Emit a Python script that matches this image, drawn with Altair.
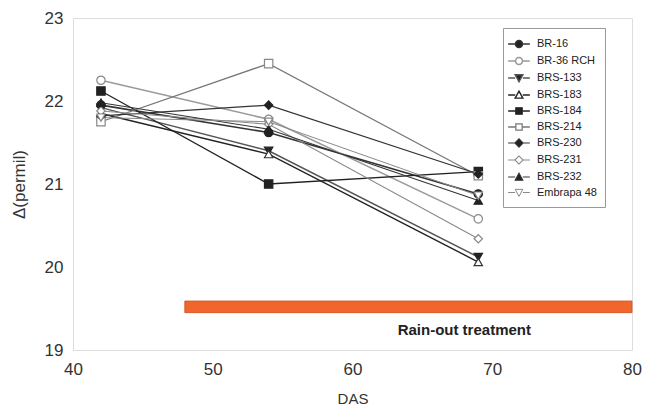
import altair as alt
import pandas as pd

das = [42, 54, 69]
series = ["BR-16", "BR-36 RCH", "BRS-133", "BRS-183", "BRS-184",
          "BRS-214", "BRS-230", "BRS-231", "BRS-232", "Embrapa 48"]
br16 = [21.95, 21.62, 20.88]
br36 = [22.25, 21.78, 20.58]
brs133 = [21.92, 21.40, 20.12]
brs183 = [21.85, 21.36, 20.06]
brs184 = [22.12, 21.00, 21.15]
brs214 = [21.75, 22.45, 21.10]
brs230 = [21.82, 21.95, 21.12]
brs231 = [21.88, 21.72, 20.34]
brs232 = [21.98, 21.66, 20.80]
embrapa48 = [21.80, 21.75, 20.86]
all_vals = [br16, br36, brs133, brs183, brs184, brs214, brs230, brs231, brs232, embrapa48]

line_colors = ["#333333", "#9a9a9a", "#555555", "#222222", "#222222",
               "#777777", "#333333", "#8a8a8a", "#333333", "#8a8a8a"]
line_widths = [1.6, 1.0, 1.3, 2.4, 2.2, 1.4, 1.8, 1.0, 1.6, 1.0]
marker_fill = ["#222222", "white", "#222222", "white", "#222222",
               "white", "#222222", "white", "#222222", "white"]
marker_stroke = ["#222222", "#888888", "#222222", "#333333", "#222222",
                 "#888888", "#222222", "#888888", "#222222", "#888888"]
shapes = ["circle", "circle", "triangle-down", "triangle-up", "square",
          "square", "diamond", "diamond", "triangle-up", "triangle-down"]

stub = "M-1.55,0H-0.55M0.55,0H1.55"
p_circle = stub + "M-0.5,0A0.5,0.5,0,1,0,0.5,0A0.5,0.5,0,1,0,-0.5,0Z"
p_square = stub + "M-0.45,-0.45H0.45V0.45H-0.45Z"
p_tdown = stub + "M-0.55,-0.45H0.55L0,0.55Z"
p_tup = stub + "M-0.55,0.45H0.55L0,-0.55Z"
p_diam = stub + "M-0.58,0L0,-0.58L0.58,0L0,0.58Z"
legend_paths = [p_circle, p_circle, p_tdown, p_tup, p_square,
                p_square, p_diam, p_diam, p_tup, p_tdown]

bar_start = [48]
bar_end = [80]
bar_lo = [19.45]
bar_hi = [19.59]
note_text = ["Rain-out treatment"]
note_x = [68.0]
note_y = [19.24]

rows = []
for s, vals in zip(series, all_vals):
    for d, v in zip(das, vals):
        rows.append({"cultivar": s, "DAS": d, "delta": v})
df = pd.DataFrame(rows)

bar_df = pd.DataFrame({"DAS": bar_start, "DAS_end": bar_end, "delta": bar_lo, "delta_hi": bar_hi})
note_df = pd.DataFrame({"t": note_text, "DAS": note_x, "delta": note_y})

FONT = "Liberation Sans"

x_scale = alt.Scale(domain=[40, 80], nice=False, zero=False)
y_scale = alt.Scale(domain=[19, 23], nice=False, zero=False)
x_axis = alt.Axis(title="DAS", values=[40, 50, 60, 70, 80], grid=False,
                  domain=False, ticks=False, labelFontSize=17, labelFont=FONT,
                  labelColor="#333333", labelPadding=11, titleFont=FONT,
                  titleFontSize=15, titleFontWeight="normal", titleColor="#333333",
                  titlePadding=14, labelFlush=False)
y_axis = alt.Axis(title="Δ(permil)", values=[19, 20, 21, 22, 23], grid=False,
                  domain=False, ticks=False, labelFontSize=17, labelFont=FONT,
                  labelColor="#333333", labelPadding=10, titleFont=FONT,
                  titleFontSize=17, titleFontWeight="normal", titleColor="#333333",
                  titlePadding=16)

x_enc = alt.X("DAS:Q", scale=x_scale, axis=x_axis)
y_enc = alt.Y("delta:Q", scale=y_scale, axis=y_axis)

bar = alt.Chart(bar_df).mark_rect(color="#f0662d", stroke="#d0501c", strokeWidth=0.8).encode(
    x=x_enc, x2="DAS_end:Q", y=y_enc, y2="delta_hi:Q",
)

note = alt.Chart(note_df).mark_text(font=FONT, fontSize=15, fontWeight="bold",
                                    color="#222222").encode(
    x=x_enc, y=y_enc, text="t:N")

lines = alt.Chart(df).mark_line().encode(
    x=x_enc, y=y_enc,
    stroke=alt.Stroke("cultivar:N", scale=alt.Scale(domain=series, range=line_colors), legend=None),
    strokeWidth=alt.StrokeWidth("cultivar:N", scale=alt.Scale(domain=series, range=line_widths), legend=None),
)

points = alt.Chart(df).mark_point(filled=True, opacity=1, size=70, strokeWidth=1.2).encode(
    x=x_enc, y=y_enc,
    shape=alt.Shape("cultivar:N", scale=alt.Scale(domain=series, range=shapes), legend=None),
    fill=alt.Fill("cultivar:N", scale=alt.Scale(domain=series, range=marker_fill), legend=None),
    stroke=alt.Stroke("cultivar:N", scale=alt.Scale(domain=series, range=marker_stroke), legend=None),
)

leg = alt.Legend(title=None, orient="none", legendX=430, legendY=10, symbolSize=196,
                 labelFont=FONT, labelFontSize=11, labelColor="#222222", padding=8,
                 strokeColor="#999999", fillColor="white", rowPadding=2, labelOffset=10)

legend_layer = alt.Chart(df).transform_filter("false").mark_point(
    filled=True, opacity=1).encode(
    x=x_enc, y=y_enc,
    shape=alt.Shape("cultivar:N", scale=alt.Scale(domain=series, range=legend_paths), legend=leg),
    fill=alt.Fill("cultivar:N", scale=alt.Scale(domain=series, range=marker_fill), legend=leg),
    stroke=alt.Stroke("cultivar:N", scale=alt.Scale(domain=series, range=line_colors), legend=leg),
    strokeWidth=alt.StrokeWidth("cultivar:N", scale=alt.Scale(domain=series, range=line_widths), legend=leg),
)

chart = alt.layer(bar, note, lines, points, legend_layer).resolve_scale(
    shape="independent", fill="independent", stroke="independent", strokeWidth="independent"
).properties(
    width=559, height=332,
    autosize=alt.AutoSizeParams(type="none"),
    padding={"left": 73, "top": 18, "right": 14, "bottom": 67},
).configure_view(stroke="#a0a0a0", strokeWidth=2).configure(background="white")

chart.save("out.html", embed_options={"renderer": "svg", "actions": False})
